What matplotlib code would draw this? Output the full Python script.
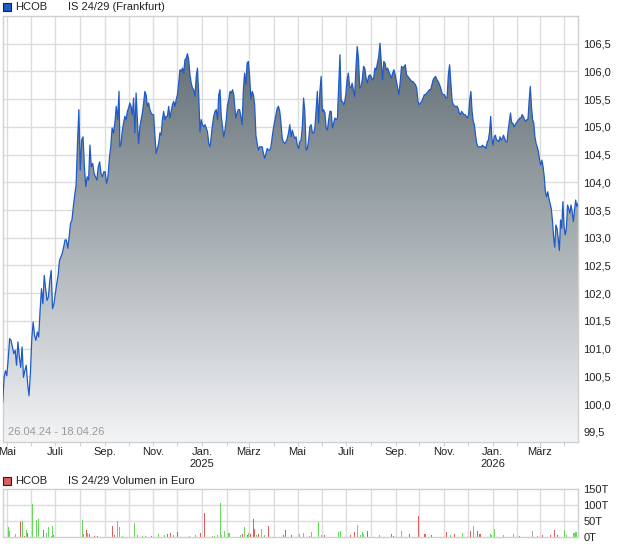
import numpy as np
import pandas as pd
import matplotlib
matplotlib.use("Agg")
import matplotlib.pyplot as plt
import matplotlib.dates as mdates
from matplotlib.patches import Rectangle
from matplotlib.ticker import FixedLocator, FuncFormatter

plt.rcParams['font.family'] = ['Liberation Sans', 'DejaVu Sans']

# ---------------- data ----------------
title_main = "IS 24/29 (Frankfurt)"
title_vol = "IS 24/29 Volumen in Euro"
issuer = "HCOB"
range_text = "26.04.24 - 18.04.26"

seg_bounds = [("2024-04-26", "2024-09-19"), ("2024-09-20", "2025-02-10"),
              ("2025-02-11", "2025-06-28"), ("2025-06-29", "2025-11-19"),
              ("2025-11-20", "2026-04-18")]

price_seg1 = [100.03, 100.48, 100.60, 100.51, 100.82, 101.18, 101.15, 101.03, 100.91, 100.97,
              100.70, 101.12, 100.85, 100.66, 101.03, 100.48, 100.60, 100.70, 100.37, 100.15,
              100.55, 101.18, 101.48, 101.24, 101.15, 101.30, 101.21, 101.69, 102.08, 101.81,
              102.32, 102.08, 101.87, 101.93, 102.23, 102.41, 101.72, 101.81, 101.99, 102.17,
              102.32, 102.59, 102.65, 102.72, 102.83, 102.96, 102.96, 102.81, 103.02, 103.26,
              103.32, 103.56, 103.77, 103.95, 104.70, 105.31, 104.22, 104.76, 104.82, 104.28,
              103.92, 104.10, 104.04, 104.67, 104.28, 104.34, 104.16, 104.10, 104.04, 104.28,
              104.37, 104.16, 104.10, 104.19, 104.19, 103.98, 104.10, 104.43, 104.64, 104.98,
              104.89, 105.07, 105.37, 105.13, 105.64]
price_seg2 = [104.64, 104.70, 104.94, 105.07, 105.19, 105.13, 105.28, 105.34, 105.43, 105.37,
              105.22, 105.52, 104.89, 105.61, 105.13, 104.70, 105.00, 105.13, 105.25, 105.43,
              105.64, 105.58, 105.37, 105.43, 105.31, 105.25, 105.22, 105.22, 104.85, 104.52,
              104.61, 104.70, 104.89, 104.85, 105.13, 105.28, 105.13, 105.19, 105.19, 105.37,
              105.16, 105.28, 105.40, 105.46, 105.37, 105.49, 105.58, 105.79, 106.03, 106.00,
              106.06, 105.97, 106.21, 106.24, 106.32, 106.21, 105.94, 105.79, 105.70, 105.67,
              105.55, 105.91, 106.06, 105.58, 104.91, 105.13, 105.04, 105.00, 105.04, 104.98,
              104.91, 104.70, 104.64, 104.82, 105.04, 105.19, 105.28, 105.31, 105.13, 105.58,
              105.67, 105.19, 105.00, 104.82, 104.94, 105.13, 105.40, 105.49, 105.64, 105.61,
              105.67, 105.58]
price_seg3 = [105.40, 105.16, 105.25, 105.31, 105.31, 105.19, 105.04, 105.67, 105.97, 105.76,
              106.15, 106.18, 105.91, 105.49, 105.64, 105.58, 105.40, 104.85, 104.70, 104.58,
              104.64, 104.64, 104.64, 104.52, 104.43, 104.52, 104.61, 104.58, 104.58, 104.64,
              104.82, 104.98, 105.10, 105.22, 105.34, 105.37, 105.28, 105.07, 104.79, 104.73,
              104.70, 104.73, 104.79, 104.89, 105.04, 104.82, 104.94, 104.85, 104.79, 104.82,
              104.67, 104.61, 104.73, 104.76, 105.00, 105.52, 105.28, 104.58, 104.61, 104.76,
              105.00, 105.04, 104.89, 104.89, 104.98, 105.31, 105.64, 105.07, 105.64, 105.91,
              105.28, 105.31, 105.25, 104.98, 104.94, 105.13, 105.28, 105.28, 104.98, 105.07,
              105.16, 105.13, 105.16, 105.76, 106.30, 105.46, 105.46, 105.40]
price_seg4 = [105.43, 105.58, 105.85, 105.97, 105.73, 105.70, 105.79, 105.67, 105.55, 106.06,
              106.45, 106.24, 105.70, 105.73, 105.85, 106.09, 106.06, 105.88, 105.79, 105.91,
              105.94, 105.91, 105.85, 105.88, 106.06, 106.03, 106.15, 106.27, 106.51, 106.18,
              105.85, 106.18, 106.15, 106.03, 106.06, 106.00, 105.94, 105.88, 105.97, 106.03,
              105.94, 105.82, 105.70, 105.58, 105.82, 106.09, 106.06, 106.09, 106.12, 105.94,
              105.91, 105.88, 105.85, 105.82, 105.82, 105.79, 105.76, 105.70, 105.46, 105.40,
              105.43, 105.46, 105.52, 105.58, 105.58, 105.61, 105.64, 105.67, 105.67, 105.76,
              105.85, 105.89, 105.91, 105.85, 105.82, 105.76, 105.70, 105.61, 105.58, 105.58,
              105.52, 105.52, 105.94, 106.12, 105.79, 105.46, 105.40, 105.37, 105.37, 105.37,
              105.31]
price_seg5 = [105.25, 105.22, 105.28, 105.25, 105.22, 105.22, 105.19, 105.16, 105.22, 105.49,
              105.64, 105.28, 105.10, 105.04, 104.85, 104.70, 104.64, 104.64, 104.64, 104.64,
              104.67, 104.64, 104.64, 104.61, 104.73, 104.76, 104.91, 105.19, 104.79, 104.67,
              104.82, 104.85, 104.76, 104.76, 104.73, 104.82, 104.76, 104.79, 104.85, 104.79,
              104.73, 104.73, 104.94, 105.10, 105.25, 105.07, 105.07, 105.00, 105.04, 105.07,
              105.10, 105.13, 105.16, 105.16, 105.22, 105.19, 105.13, 105.10, 105.13, 105.13,
              105.46, 105.73, 105.37, 105.13, 105.07, 104.82, 104.70, 104.64, 104.55, 104.40,
              104.31, 104.40, 104.28, 104.10, 103.83, 103.74, 103.83, 103.71, 103.62, 103.53,
              103.32, 103.02, 102.83, 103.23, 103.17, 102.99, 102.77, 103.32, 103.17, 103.65,
              103.20, 103.05, 103.17, 103.59, 103.53, 103.44, 103.59, 103.47, 103.29, 103.50,
              103.68, 103.56, 103.62]

# volume: days after 26.04.2024, value in thousand EUR, colour class
vol_day = [7, 8, 16, 22, 25, 27, 30, 31, 38, 43, 45, 51, 55, 58, 61, 62, 64,
           100, 102, 105, 107, 109, 115, 119, 138, 140, 144, 146, 150, 166, 169, 175, 179,
           187, 195, 203, 207, 210, 214, 219, 234, 242, 248, 253, 263, 266, 269, 273, 274,
           278, 284, 298, 301, 303, 307, 309, 311, 315, 316, 318, 321, 325, 328, 333, 352,
           355, 362, 373, 378, 385,
           387, 396, 400, 404, 422, 424, 436, 442, 445, 449, 451, 453, 458, 473, 488, 490,
           500, 501, 510, 522, 530, 538, 557, 562, 567, 577, 587, 591, 596, 599, 612, 613,
           617, 628, 641, 648, 665, 671, 677, 687, 692, 696, 705, 707, 717, 719, 720]
vol_val = [30, 19, 8, 45, 50, 2, 21, 13, 104, 53, 57, 21, 13, 29, 2, 34, 4,
           53, 8, 21, 11, 8, 2, 2, 34, 4, 50, 30, 2, 43, 5, 2, 2,
           2, 8, 5, 8, 11, 5, 15, 2, 4, 12, 75, 2, 2, 5, 107, 5,
           18, 13, 5, 8, 29, 5, 13, 7, 56, 25, 5, 7, 24, 5, 34, 5,
           21, 5, 8, 13, 3,
           14, 47, 5, 4, 15, 18, 4, 15, 37, 5, 15, 8, 18, 4, 8, 2,
           6, 18, 8, 66, 8, 4, 15, 4, 8, 13, 18, 34, 18, 8, 8, 4,
           24, 5, 8, 2, 18, 3, 5, 5, 21, 5, 21, 5, 13, 15, 15]
vol_kind = ['g', 'g', 'g', 'r', 'g', 'r', 'g', 'r', 'g', 'g', 'g', 'r', 'g', 'g', 'g', 'g', 'r',
            'g', 'g', 'r', 'g', 'r', 'r', 'r', 'r', 'r', 'g', 'g', 'g', 'g', 'g', 'g', 'g',
            'r', 'g', 'g', 'r', 'r', 'g', 'r', 'g', 'g', 'r', 'r', 'g', 'g', 'g', 'g', 'g',
            'g', 'g', 'g', 'r', 'g', 'r', 'g', 'r', 'r', 'r', 'g', 'r', 'x', 'g', 'r', 'r',
            'r', 'r', 'g', 'g', 'g',
            'g', 'g', 'g', 'r', 'g', 'g', 'r', 'r', 'g', 'g', 'g', 'g', 'r', 'g', 'r', 'r',
            'g', 'g', 'r', 'r', 'r', 'r', 'r', 'g', 'r', 'g', 'r', 'g', 'r', 'r', 'g', 'g',
            'g', 'g', 'g', 'r', 'x', 'g', 'r', 'r', 'r', 'r', 'g', 'g', 'g', 'g', 'g']

price_ticks = [99.5, 100.0, 100.5, 101.0, 101.5, 102.0, 102.5, 103.0, 103.5,
               104.0, 104.5, 105.0, 105.5, 106.0, 106.5]
vol_ticks = [0, 50, 100, 150]
vol_tick_labels = ["0T", "50T", "100T", "150T"]
month_labels = {"2024-05": "Mai", "2024-07": "Juli", "2024-09": "Sep.", "2024-11": "Nov.",
                "2025-01": "Jan.\n2025", "2025-03": "März", "2025-05": "Mai", "2025-07": "Juli",
                "2025-09": "Sep.", "2025-11": "Nov.", "2026-01": "Jan.\n2026", "2026-03": "März"}

# ---------------- build series ----------------
segs = [price_seg1, price_seg2, price_seg3, price_seg4, price_seg5]
dates_list, prices = [], []
for (s, e), vals in zip(seg_bounds, segs):
    dates_list.append(pd.date_range(s, e, periods=len(vals)))
    prices.extend(vals)
dates = pd.DatetimeIndex(np.concatenate([d.values for d in dates_list]))
prices = np.array(prices)

start = pd.Timestamp("2024-04-26")
end = pd.Timestamp("2026-04-18")
vdates = start + pd.to_timedelta(vol_day, unit="D")

W, H = 620, 546
fig = plt.figure(figsize=(W / 100, H / 100), dpi=100)

def fx(px):
    return px / W

def fy(py):
    return 1 - py / H

grid_c = "#dcdcdc"
spine_c = "#cfcfcf"
txt_c = "#222222"
line_c = "#1f5bc8"

ax = fig.add_axes([fx(2.7), fy(441.7), fx(578) - fx(2.7), fy(16) - fy(441.7)])
axv = fig.add_axes([fx(2.7), fy(536.7), fx(578) - fx(2.7), fy(489) - fy(536.7)])

ylo, yhi = 99.32, 107.0
months = pd.date_range("2024-05-01", "2026-04-01", freq="MS")

for a in (ax, axv):
    a.set_xlim(start, end)
    for sp in a.spines.values():
        sp.set_color(spine_c)
        sp.set_linewidth(1)
    a.set_facecolor("white")
    for m in months:
        a.axvline(m, color=grid_c, lw=1, zorder=0)

# main price chart
ax.set_ylim(ylo, yhi)
for t in price_ticks:
    ax.axhline(t, color=grid_c, lw=1, zorder=0)

poly = ax.fill_between(dates, prices, ylo, facecolor="none", edgecolor="none", zorder=1)
top_c = np.array([86, 100, 107]) / 255
bot_c = np.array([243, 244, 246]) / 255
n = 256
frac = np.linspace(0, 1, n)[:, None]
grad = (top_c[None, :] * (1 - frac) + bot_c[None, :] * frac)[:, None, :]
x0, x1 = mdates.date2num(start), mdates.date2num(end)
img = ax.imshow(grad, extent=[x0, x1, ylo, yhi], aspect="auto", origin="upper",
                zorder=1, interpolation="bilinear")
img.set_clip_path(poly.get_paths()[0], transform=ax.transData)
ax.set_xlim(start, end)
ax.set_ylim(ylo, yhi)
ax.plot(dates, prices, color=line_c, lw=0.9, zorder=3)

ax.yaxis.tick_right()
ax.yaxis.set_major_locator(FixedLocator(price_ticks))
ax.yaxis.set_major_formatter(FuncFormatter(lambda v, p: f"{v:.1f}".replace(".", ",")))
ax.tick_params(axis="y", length=0, pad=4, labelsize=8, labelcolor=txt_c)

ax.xaxis.set_major_locator(FixedLocator(mdates.date2num(months)))
ax.set_xticklabels([month_labels.get(m.strftime("%Y-%m"), "") for m in months])
ax.tick_params(axis="x", length=3, color=spine_c, pad=0.5, labelsize=8, labelcolor=txt_c)
for lab in ax.get_xticklabels():
    lab.set_linespacing(1.3)

ax.text(0.009, 0.012, range_text, transform=ax.transAxes, fontsize=8, color="#9a9a9a",
        ha="left", va="bottom", zorder=5)

# volume chart
axv.set_ylim(0, 150)
for t in [50, 100]:
    axv.axhline(t, color=grid_c, lw=1, zorder=0)
col_map = {"g": "#66d95a", "r": "#dd5c5c", "x": "#aaaaaa"}
axv.bar(vdates, vol_val, width=1.3, color=[col_map[k] for k in vol_kind], linewidth=0, zorder=2)
axv.yaxis.tick_right()
axv.set_yticks(vol_ticks)
axv.set_yticklabels(vol_tick_labels)
axv.tick_params(axis="y", length=0, pad=4, labelsize=8, labelcolor=txt_c)
axv.set_xticks([])

# legends
fig.add_artist(Rectangle((fx(3), fy(11)), fx(8), fy(3) - fy(11), transform=fig.transFigure,
                         facecolor="#1f5bc8", edgecolor="#222222", lw=0.8))
fig.text(fx(15), fy(7), issuer, fontsize=8, color=txt_c, va="center", ha="left")
fig.text(fx(68), fy(7), title_main, fontsize=8, color=txt_c, va="center", ha="left")

fig.add_artist(Rectangle((fx(3), fy(485)), fx(8), fy(477) - fy(485), transform=fig.transFigure,
                         facecolor="#dd5c5c", edgecolor="#222222", lw=0.8))
fig.text(fx(15), fy(481), issuer, fontsize=8, color=txt_c, va="center", ha="left")
fig.text(fx(68), fy(481), title_vol, fontsize=8, color=txt_c, va="center", ha="left")

fig.savefig("out.png", dpi=100)
